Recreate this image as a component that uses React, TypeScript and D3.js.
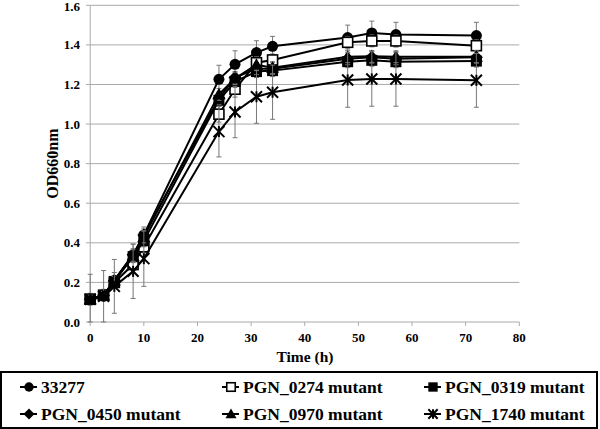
import React from "react";
import * as d3 from "d3";

const times = [0, 2.5, 4.5, 8, 10, 24, 27, 31, 34, 48, 52.5, 57, 72];
const seriesNames = ["33277", "PGN_0274 mutant", "PGN_0319 mutant", "PGN_0450 mutant", "PGN_0970 mutant", "PGN_1740 mutant"];
const markerTypes = ["circle", "openSquare", "square", "diamond", "triangle", "star"];
const v33277 = [0.115, 0.135, 0.21, 0.34, 0.44, 1.226, 1.302, 1.361, 1.393, 1.437, 1.46, 1.452, 1.447];
const v0274 = [0.115, 0.135, 0.2, 0.29, 0.38, 1.05, 1.176, 1.31, 1.324, 1.413, 1.42, 1.42, 1.396];
const v0319 = [0.115, 0.135, 0.205, 0.33, 0.41, 1.12, 1.215, 1.265, 1.27, 1.315, 1.322, 1.315, 1.318];
const v0450 = [0.115, 0.135, 0.21, 0.34, 0.44, 1.13, 1.235, 1.28, 1.28, 1.33, 1.338, 1.33, 1.338];
const v0970 = [0.115, 0.135, 0.21, 0.335, 0.43, 1.15, 1.23, 1.3, 1.285, 1.34, 1.342, 1.34, 1.34];
const v1740 = [0.115, 0.13, 0.18, 0.256, 0.32, 0.962, 1.061, 1.138, 1.161, 1.223, 1.228, 1.228, 1.221];
const e33277 = [0.03, 0.03, 0.04, 0.054, 0.04, 0.071, 0.068, 0.06, 0.05, 0.063, 0.06, 0.062, 0.067];
const e0274 = [0.02, 0.02, 0.02, 0.03, 0.03, 0.04, 0.04, 0.03, 0.03, 0.03, 0.03, 0.03, 0.03];
const e0319 = [0.02, 0.02, 0.02, 0.03, 0.03, 0.03, 0.03, 0.03, 0.03, 0.03, 0.03, 0.03, 0.03];
const e0450 = [0.02, 0.02, 0.02, 0.03, 0.03, 0.03, 0.03, 0.03, 0.03, 0.03, 0.03, 0.03, 0.03];
const e0970 = [0.02, 0.02, 0.02, 0.03, 0.03, 0.03, 0.03, 0.03, 0.03, 0.03, 0.03, 0.03, 0.03];
const e1740 = [0.126, 0.13, 0.136, 0.137, 0.14, 0.128, 0.13, 0.134, 0.137, 0.138, 0.138, 0.138, 0.136];
const seriesValues = [v33277, v0274, v0319, v0450, v0970, v1740];
const seriesErrors = [e33277, e0274, e0319, e0450, e0970, e1740];
const xTicks = [0, 10, 20, 30, 40, 50, 60, 70, 80];
const yTicks = [0, 0.2, 0.4, 0.6, 0.8, 1.0, 1.2, 1.4, 1.6];

const FONT = "'Liberation Serif', 'Times New Roman', Times, serif";
const txt = { fontFamily: FONT, fontWeight: 700 as const };

function Marker({ type, x, y, s = 1 }: { type: string; x: number; y: number; s?: number }) {
  switch (type) {
    case "circle":
      return <circle cx={x} cy={y} r={5.5 * s} fill="#000" />;
    case "openSquare":
      return <rect x={x - 5 * s} y={y - 5 * s} width={10 * s} height={10 * s} fill="#fff" stroke="#000" strokeWidth={1.6} />;
    case "square":
      return <rect x={x - 5.5 * s} y={y - 5.5 * s} width={11 * s} height={11 * s} fill="#000" />;
    case "diamond":
      return <path d={`M${x},${y - 6.5 * s}L${x + 6.5 * s},${y}L${x},${y + 6.5 * s}L${x - 6.5 * s},${y}Z`} fill="#000" />;
    case "triangle":
      return <path d={`M${x},${y - 6.5 * s}L${x + 6.5 * s},${y + 5 * s}L${x - 6.5 * s},${y + 5 * s}Z`} fill="#000" />;
    case "star": {
      const r = 5.5 * s;
      return (
        <g stroke="#000" strokeWidth={2}>
          <line x1={x - r} y1={y - r} x2={x + r} y2={y + r} />
          <line x1={x - r} y1={y + r} x2={x + r} y2={y - r} />
          <line x1={x} y1={y - r} x2={x} y2={y + r} />
        </g>
      );
    }
  }
  return null;
}

export default function App() {
  const W = 600, H = 429;
  const x = d3.scaleLinear().domain([0, 80]).range([90.2, 519.3]);
  const y = d3.scaleLinear().domain([0, 1.6]).range([322, 5.3]);
  const line = d3.line<number>().x((_, i) => x(times[i])).y((d) => y(d));

  const legendCols = [25, 227, 429];
  const legendRows = [387, 414];

  return (
    <svg width={W} height={H} style={{ position: "absolute", left: 0, top: 0, background: "#fff" }}>
      <rect width={W} height={H} fill="#fff" />
      {yTicks.map((t) => (
        <line key={t} x1={86} x2={x(80)} y1={y(t)} y2={y(t)} stroke="#aaa" strokeWidth={1} />
      ))}
      <line x1={x(0)} x2={x(0)} y1={y(1.6)} y2={y(0)} stroke="#aaa" strokeWidth={1} />
      {xTicks.map((t) => (
        <line key={t} x1={x(t)} x2={x(t)} y1={y(0)} y2={y(0) + 4} stroke="#aaa" strokeWidth={1} />
      ))}
      {yTicks.map((t) => (
        <text key={t} x={80} y={y(t)} dy={t === 1.6 ? "0.42em" : "0.35em"} textAnchor="end" fontSize={13} style={txt}>
          {d3.format(".1f")(t)}
        </text>
      ))}
      {xTicks.map((t) => (
        <text key={t} x={x(t)} y={342} textAnchor="middle" fontSize={13} style={txt}>
          {t}
        </text>
      ))}
      <text x={305} y={362} textAnchor="middle" fontSize={15.5} style={txt}>Time (h)</text>
      <text transform={`translate(58,${(y(0) + y(1.6)) / 2}) rotate(-90)`} textAnchor="middle" fontSize={16} style={txt}>OD660nm</text>

      {seriesValues.map((vals, si) => (
        <g key={si}>
          {vals.map((v, i) => {
            const e = seriesErrors[si][i];
            const lo = Math.max(0, v - e);
            const hi = v + e;
            const cx = x(times[i]);
            return (
              <g key={i} stroke="#777" strokeWidth={1}>
                <line x1={cx} x2={cx} y1={y(lo)} y2={y(hi)} />
                <line x1={cx - 2.5} x2={cx + 2.5} y1={y(lo)} y2={y(lo)} />
                <line x1={cx - 2.5} x2={cx + 2.5} y1={y(hi)} y2={y(hi)} />
              </g>
            );
          })}
          <path d={line(vals) || ""} fill="none" stroke="#000" strokeWidth={2} />
          {vals.map((v, i) => (
            <Marker key={i} type={markerTypes[si]} x={x(times[i])} y={y(v)} />
          ))}
        </g>
      ))}

      <rect x={1} y={372} width={596} height={56} fill="none" stroke="#000" strokeWidth={2} />
      {seriesNames.map((name, i) => {
        const cx = legendCols[i % 3];
        const cy = legendRows[Math.floor(i / 3)];
        return (
          <g key={name}>
            <line x1={cx - 5} x2={cx + 12} y1={cy} y2={cy} stroke="#000" strokeWidth={2} />
            <Marker type={markerTypes[i]} x={cx + 4} y={cy} s={0.85} />
            <text x={cx + 16} y={cy} dy="0.35em" fontSize={17.5} style={txt}>{name}</text>
          </g>
        );
      })}
    </svg>
  );
}
